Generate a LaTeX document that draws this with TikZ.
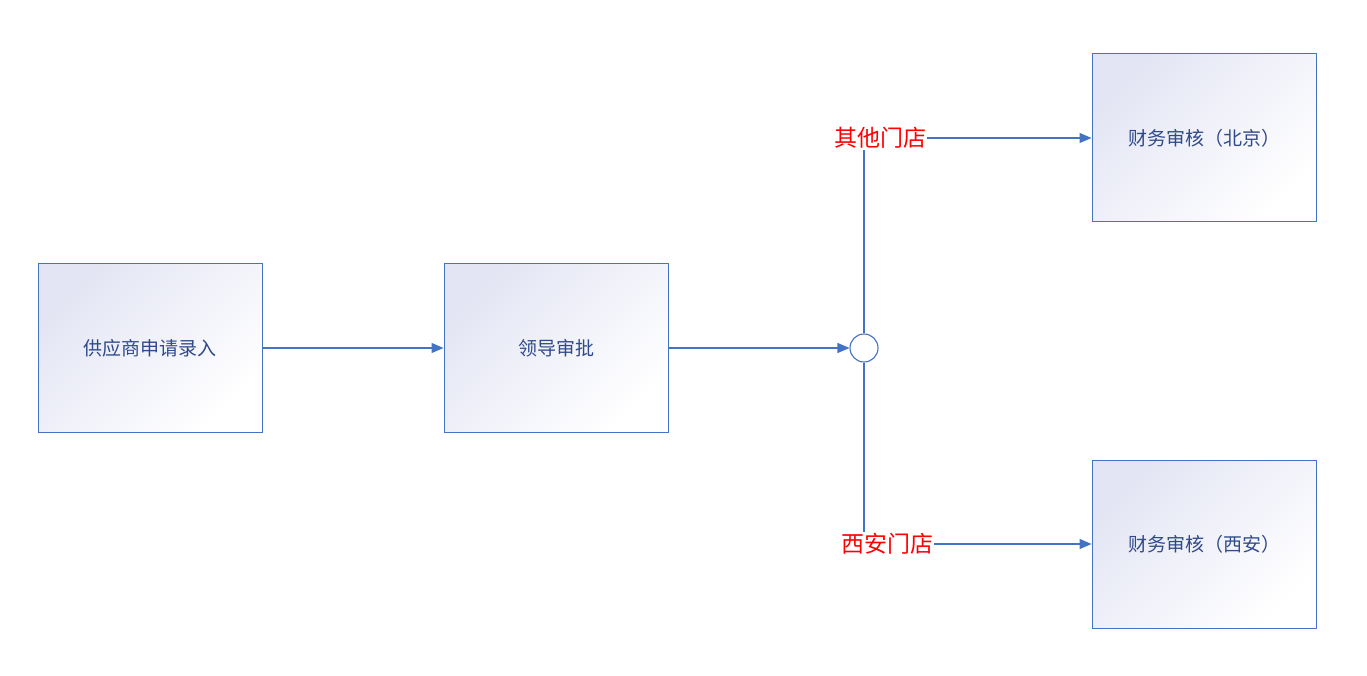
\documentclass[tikz,border=0pt]{standalone}
\usepackage{fontspec}
\newfontfamily\cjk{Noto Sans CJK SC}
\usetikzlibrary{arrows.meta}
\definecolor{bl}{HTML}{4472C4}
\definecolor{tx}{HTML}{2F4A8A}
\definecolor{lav}{HTML}{E3E5F4}
\tikzset{
 boxn/.style={draw=bl, line width=1pt, minimum width=224pt, minimum height=168pt, left color=lav, right color=white, shading angle=45, text=tx, font=\cjk\fontsize{19}{22}\selectfont, inner sep=0pt},
 lab/.style={text=red, font=\cjk\fontsize{23}{26}\selectfont, inner sep=1pt},
 conn/.style={draw=bl, line width=1.1pt},
 arr/.style={conn, -{Triangle[length=12pt,width=10pt]}}
}
\begin{document}
\begin{tikzpicture}[x=1pt,y=-1pt]
\useasboundingbox[fill=white] (0,0) rectangle (1367,676);
\node[boxn] (a) at (150,348) {供应商申请录入};
\node[boxn] (b) at (556,348) {领导审批};
\node[draw=bl, line width=1.1pt, circle, minimum size=28pt, inner sep=0pt, fill=white] (c) at (864,348) {};
\node[boxn] (d) at (1204,138) {财务审核（北京）};
\node[boxn] (e) at (1204,544) {财务审核（西安）};
\node[lab] (l1) at (880,138) {其他门店};
\node[lab] (l2) at (887,544) {西安门店};
\draw[arr] (a) -- (b);
\draw[arr] (b) -- (c);
\draw[conn] (c) -- (c|-l1.south);
\draw[conn] (c) -- (c|-l2.north);
\draw[arr] (l1) -- (d);
\draw[arr] (l2) -- (e);
\end{tikzpicture}
\end{document}
